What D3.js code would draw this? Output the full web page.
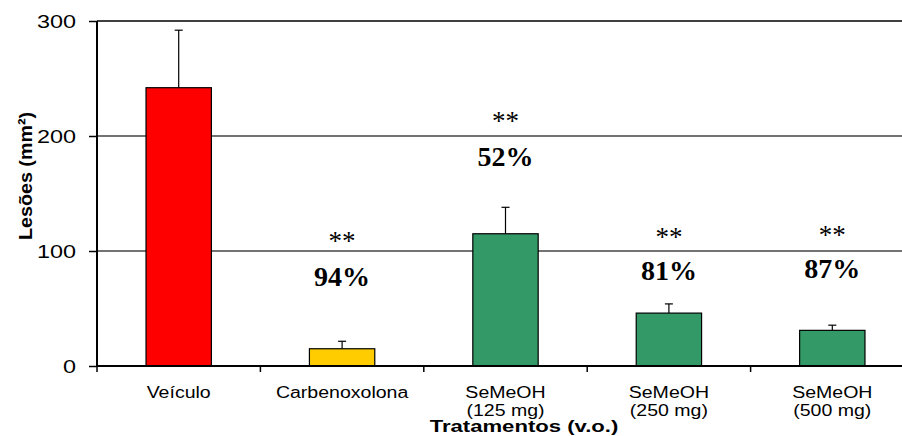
<!DOCTYPE html>
<html>
<head>
<meta charset="utf-8">
<script src="https://cdn.jsdelivr.net/npm/d3@7"></script>
<style>
  body { margin: 0; background: #fff; }
  svg { display: block; }
</style>
</head>
<body>
<div class="barchart"></div>
<script>
// data
const categories = ["Veículo", "Carbenoxolona", "SeMeOH|(125 mg)", "SeMeOH|(250 mg)", "SeMeOH|(500 mg)"];
const lesoes = [242, 15, 115, 46, 31];
const erros = [50, 6.5, 23, 8, 4.5];
const colours = ["#ff0000", "#ffcc00", "#339966", "#339966", "#339966"];
const stars = ["", "**", "**", "**", "**"];
const inibicao = ["", "94%", "52%", "81%", "87%"];
const yTicks = [0, 100, 200, 300];

const W = 902, H = 436;
const m = {top: 21, right: -12, bottom: 70, left: 97};
const width = W - m.left - m.right;
const height = H - m.top - m.bottom;

var svg = d3.select(".barchart")
    .append("svg")
    .attr("width", W)
    .attr("height", H)
    .append("g")
    .attr("transform", "translate(" + m.left + "," + m.top + ")");

var x = d3.scaleBand()
    .domain(categories)
    .range([0, width])
    .padding(0);

var y = d3.scaleLinear()
    .domain([0, 300])
    .range([height, 0]);

// stretch text horizontally like the original export
function stretch(sel, k) {
    sel.each(function() {
        var len = this.getComputedTextLength();
        d3.select(this).attr("textLength", len * k).attr("lengthAdjust", "spacingAndGlyphs");
    });
}

// gridlines
svg.selectAll(".grid")
    .data(yTicks.filter(d => d > 0))
    .enter()
    .append("line")
    .attr("x1", 0)
    .attr("x2", W - m.left)
    .attr("y1", d => y(d))
    .attr("y2", d => y(d))
    .attr("stroke", d => d == 300 ? "#000" : "#444")
    .attr("stroke-width", 1.5);

// y axis
var yAxis = svg.append("g")
    .call(d3.axisLeft(y).tickValues(yTicks).tickSize(8).tickPadding(13));
yAxis.select(".domain").remove();
yAxis.selectAll(".tick line").attr("stroke", "#000").attr("stroke-width", 1.5);
yAxis.selectAll(".tick text")
    .attr("font-family", "Liberation Sans, Arial, sans-serif")
    .attr("font-size", 18)
    .attr("fill", "#000")
    .attr("dy", "0.36em");
stretch(yAxis.selectAll(".tick text"), 1.3);
svg.append("line")
    .attr("x1", 0).attr("x2", 0)
    .attr("y1", 0).attr("y2", height + 1)
    .attr("stroke", "#000").attr("stroke-width", 2);

// bars
var bw = x.bandwidth() * 0.4;
svg.selectAll("rect.bar")
    .data(categories)
    .enter()
    .append("rect")
    .attr("class", "bar")
    .attr("x", d => x(d) + (x.bandwidth() - bw) / 2)
    .attr("y", (d, i) => y(lesoes[i]))
    .attr("width", bw)
    .attr("height", (d, i) => height - y(lesoes[i]))
    .attr("fill", (d, i) => colours[i])
    .attr("stroke", "#000")
    .attr("stroke-width", 1.2);

// error bars
var eb = svg.selectAll("g.err")
    .data(categories)
    .enter()
    .append("g")
    .attr("transform", d => "translate(" + (x(d) + x.bandwidth() / 2) + ",0)");
eb.append("line")
    .attr("y1", (d, i) => y(lesoes[i]))
    .attr("y2", (d, i) => y(lesoes[i] + erros[i]))
    .attr("stroke", "#000").attr("stroke-width", 1.2);
eb.append("line")
    .attr("x1", -4).attr("x2", 4)
    .attr("y1", (d, i) => y(lesoes[i] + erros[i]))
    .attr("y2", (d, i) => y(lesoes[i] + erros[i]))
    .attr("stroke", "#000").attr("stroke-width", 1.2);

// x axis
svg.append("line")
    .attr("x1", 0).attr("x2", W - m.left)
    .attr("y1", height).attr("y2", height)
    .attr("stroke", "#000").attr("stroke-width", 2);
svg.selectAll(".xtick")
    .data(categories)
    .enter()
    .append("line")
    .attr("x1", d => x(d)).attr("x2", d => x(d))
    .attr("y1", height).attr("y2", height + 6)
    .attr("stroke", "#000").attr("stroke-width", 1.5);

var xl = svg.selectAll(".xlabel")
    .data(categories)
    .enter()
    .append("text")
    .attr("text-anchor", "middle")
    .attr("font-family", "Liberation Sans, Arial, sans-serif")
    .attr("font-size", 16)
    .attr("fill", "#000");
xl.selectAll("tspan")
    .data(d => d.split("|").map(t => ({t: t, c: d})))
    .enter()
    .append("tspan")
    .attr("x", d => x(d.c) + x.bandwidth() / 2)
    .attr("y", (d, i) => height + 32 + i * 18)
    .text(d => d.t);
stretch(xl.selectAll("tspan"), 1.22);

// annotations
var annotY = [0, 100, 200, 100, 100]; // "**" baseline in data units
svg.selectAll(".stars")
    .data(categories)
    .enter()
    .append("text")
    .attr("x", d => x(d) + x.bandwidth() / 2)
    .attr("y", (d, i) => y(annotY[i]) - [0, 1, 6, 5, 7][i])
    .attr("text-anchor", "middle")
    .attr("font-family", "Liberation Serif, Times New Roman, serif")
    .attr("font-size", 27)
    .attr("fill", "#000")
    .text((d, i) => stars[i]);
svg.selectAll(".pct")
    .data(categories)
    .enter()
    .append("text")
    .attr("x", d => x(d) + x.bandwidth() / 2)
    .attr("y", (d, i) => y(annotY[i]) + [0, 35, 30, 29, 27][i])
    .attr("text-anchor", "middle")
    .attr("font-family", "Liberation Serif, Times New Roman, serif")
    .attr("font-weight", "bold")
    .attr("font-size", 28)
    .attr("fill", "#000")
    .text((d, i) => inibicao[i]);

// axis titles
var xt = svg.append("text")
    .attr("x", 524 - m.left)
    .attr("y", H - m.top - 4)
    .attr("text-anchor", "middle")
    .attr("font-family", "Liberation Sans, Arial, sans-serif")
    .attr("font-weight", "bold")
    .attr("font-size", 17)
    .attr("fill", "#000")
    .text("Tratamentos (v.o.)");
stretch(xt, 1.3);

var yt = svg.append("text")
    .attr("transform", "translate(" + (32 - m.left) + "," + (176 - m.top) + ") rotate(-90)")
    .attr("text-anchor", "middle")
    .attr("font-family", "Liberation Sans, Arial, sans-serif")
    .attr("font-weight", "bold")
    .attr("font-size", 19)
    .attr("fill", "#000")
    .text("Lesões (mm²)");
stretch(yt, 128 / yt.node().getComputedTextLength());
</script>
</body>
</html>
